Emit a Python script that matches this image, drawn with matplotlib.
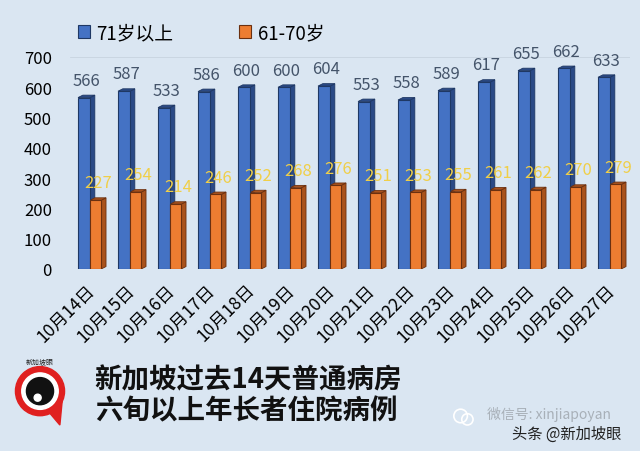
import matplotlib
matplotlib.use("Agg")
import matplotlib.pyplot as plt
from matplotlib.patches import Polygon, Circle
import numpy as np

plt.rcParams['font.family'] = ['Noto Sans CJK SC', 'DejaVu Sans']

dates = ["10月14日", "10月15日", "10月16日", "10月17日", "10月18日", "10月19日", "10月20日",
         "10月21日", "10月22日", "10月23日", "10月24日", "10月25日", "10月26日", "10月27日"]
over71 = [566, 587, 533, 586, 600, 600, 604, 553, 558, 589, 617, 655, 662, 633]
age61_70 = [227, 254, 214, 246, 252, 268, 276, 251, 253, 255, 261, 262, 270, 279]
series_names = ["71岁以上", "61-70岁"]
title_lines = ["新加坡过去14天普通病房", "六旬以上年长者住院病例"]

bg = "#dae6f2"
blue, blue_edge, blue_side = "#4472c4", "#1f3864", "#2b4a86"
orange, orange_edge, orange_side = "#ed7d31", "#6b3010", "#a9521c"

fig = plt.figure(figsize=(6.4, 4.52), dpi=100, facecolor=bg)
ax = fig.add_axes([0.1094, 0.4027, 0.875, 0.469])
ax.set_facecolor("none")

x = np.arange(len(dates))
w_b, w_o = 0.30, 0.28
dx, dy = 0.12, 8

def bars3d(xleft, w, vals, face, edge, side):
    cont = ax.bar(xleft, vals, width=w, align='edge', color=face, edgecolor=edge,
                  linewidth=0.8, zorder=3)
    for xl, v in zip(xleft, vals):
        ax.add_patch(Polygon([(xl + w, 0), (xl + w + dx, dy), (xl + w + dx, v + dy), (xl + w, v)],
                             closed=True, facecolor=side, edgecolor=edge, linewidth=0.6, zorder=2))
        ax.add_patch(Polygon([(xl, v), (xl + dx, v + dy), (xl + w + dx, v + dy), (xl + w, v)],
                             closed=True, facecolor=side, edgecolor=edge, linewidth=0.6, zorder=2))
    return cont

cb = bars3d(x - w_b, w_b, over71, blue, blue_edge, blue_side)
co = bars3d(x, w_o, age61_70, orange, orange_edge, orange_side)

for xi, v in zip(x, over71):
    ax.text(xi - w_b / 2 + dx / 2, v + 57, str(v), ha='center', va='center',
            fontsize=12, color="#44546a", zorder=5)
for xi, v in zip(x, age61_70):
    ax.text(xi + w_o / 2 + dx / 2, v + 57, str(v), ha='center', va='center',
            fontsize=12, color="#f0cf48", zorder=5)

ax.set_xlim(-0.5, 13.5)
ax.set_ylim(0, 700)
ax.set_yticks(range(0, 701, 100))
ax.tick_params(axis='y', length=0, pad=13, labelsize=12)
ax.set_xticks(x - 0.12)
ax.set_xticklabels(dates, rotation=45, ha='right', va='top', rotation_mode='anchor',
                   fontsize=12.5)
ax.tick_params(axis='x', length=0, pad=8)
for s in ax.spines.values():
    s.set_visible(False)
ax.axhline(700, color="#c8d4e0", linewidth=0.6, zorder=1)

leg = ax.legend([cb, co], series_names, ncol=2, loc='lower left',
                bbox_to_anchor=(0.0, 1.03), frameon=False, fontsize=13.5,
                handlelength=0.65, handleheight=0.65, handletextpad=0.35,
                columnspacing=3.5, borderaxespad=0)

# title
fig.text(0.148, 0.158, title_lines[0], fontsize=19.8, fontweight='bold', color="#111111",
         ha='left', va='center')
fig.text(0.148, 0.090, title_lines[1], fontsize=19.8, fontweight='bold', color="#111111",
         ha='left', va='center')

# logo
lax = fig.add_axes([0.015, 0.05, 0.095, 0.17])
lax.set_xlim(-1.3, 1.3)
lax.set_ylim(-1.6, 1.5)
lax.set_aspect('equal')
lax.axis('off')
lax.add_patch(Polygon([(0.3, -0.9), (0.85, -1.55), (0.95, -0.5)], closed=True, color="#e02020"))
lax.add_patch(Circle((0, -0.1), 1.05, color="#e02020"))
lax.add_patch(Circle((0, -0.1), 0.78, color="white"))
lax.add_patch(Circle((0, -0.1), 0.58, color="#111111"))
lax.add_patch(Circle((-0.1, -0.38), 0.15, color="white"))
lax.text(0, 1.2, "新加坡眼", fontsize=5, ha='center', va='center', color="#222222")

# watermark
wax = fig.add_axes([0.705, 0.05, 0.04, 0.05])
wax.set_xlim(0, 1); wax.set_ylim(0, 1); wax.set_aspect('equal'); wax.axis('off')
wax.add_patch(Circle((0.35, 0.55), 0.3, facecolor="none", edgecolor="white", linewidth=1.2))
wax.add_patch(Circle((0.65, 0.4), 0.25, facecolor="none", edgecolor="white", linewidth=1.2))
fig.text(0.858, 0.082, "微信号: xinjiapoyan", fontsize=10, color="#a8b0b8", ha='center', va='center')
fig.text(0.885, 0.040, "头条 @新加坡眼", fontsize=11, color="#222222", ha='center', va='center')

fig.savefig("out.png", dpi=100, facecolor=bg)
